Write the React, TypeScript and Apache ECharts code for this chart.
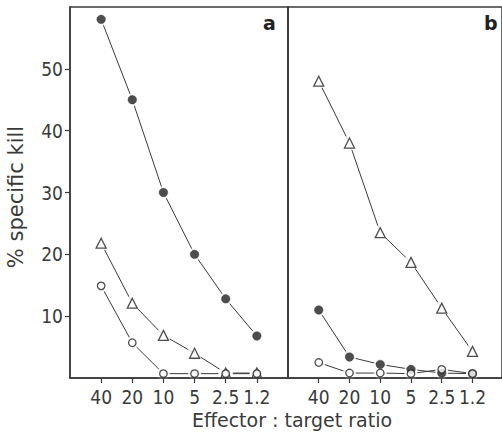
import React, { useEffect, useRef } from "react";
import * as echarts from "echarts";

const ratios = ["40", "20", "10", "5", "2.5", "1.2"];
const yTicks = [10, 20, 30, 40, 50];

// Panel a
const aFilled = [58, 45, 30, 20, 12.8, 6.8];
const aTriangle = [21.8, 12.1, 6.9, 4.0, 0.8, 0.8];
const aOpen = [14.9, 5.7, 0.7, 0.7, 0.7, 0.7];

// Panel b
const bTriangle = [48, 38, 23.5, 18.7, 11.3, 4.3];
const bFilled = [11.0, 3.4, 2.2, 1.4, 0.8, 0.7];
const bOpen = [2.5, 0.8, 0.8, 0.7, 1.4, 0.7];

const INK = "#3a3a3a";
const FONT = "'DejaVu Sans Condensed', 'DejaVu Sans', sans-serif";
const TITLE_FONT = "'DejaVu Sans', sans-serif";

const toPts = (arr: number[]) => arr.map((v, i) => [i, v]);

export default function App() {
  const ref = useRef<HTMLDivElement>(null);
  useEffect(() => {
    const chart = echarts.init(ref.current!, null, { renderer: "svg" });
    const mkX = (gi: number, max: number) => ({
      type: "value",
      gridIndex: gi,
      min: -1,
      max,
      interval: 1,
      z: 10,
      splitLine: { show: false },
      axisLine: { show: true, onZero: false, lineStyle: { color: INK, width: 1.5 } },
      axisTick: { show: true, customValues: [0, 1, 2, 3, 4, 5], length: 5, lineStyle: { color: INK, width: 1.2 } },
      axisLabel: {
        customValues: [0, 1, 2, 3, 4, 5],
        formatter: (v: number) => ratios[Math.round(v)] ?? "",
        color: INK,
        fontFamily: FONT,
        fontSize: 19,
        margin: 9,
      },
    });
    const mkY = (gi: number, showLabels: boolean) => ({
      type: "value",
      gridIndex: gi,
      min: 0,
      max: 60,
      interval: 10,
      z: 10,
      splitLine: { show: false },
      axisLine: { show: true, onZero: false, lineStyle: { color: INK, width: 1.5 } },
      axisTick: { show: showLabels, customValues: yTicks, length: 5, lineStyle: { color: INK, width: 1.2 } },
      axisLabel: {
        show: showLabels,
        customValues: yTicks,
        color: INK,
        fontFamily: FONT,
        fontSize: 19,
        margin: 7,
      },
    });

    const lineSeries = (gi: number, data: number[]) => ({
      type: "line",
      xAxisIndex: gi,
      yAxisIndex: gi,
      data: toPts(data),
      showSymbol: false,
      symbol: "none",
      lineStyle: { color: INK, width: 1 },
      z: 2,
      silent: true,
    });
    const haloSeries = (gi: number, data: number[], size: number) => ({
      type: "scatter",
      xAxisIndex: gi,
      yAxisIndex: gi,
      data: toPts(data),
      symbol: "circle",
      symbolSize: size,
      itemStyle: { color: "#ffffff" },
      z: 3,
      silent: true,
    });
    const markerSeries = (gi: number, data: number[], kind: "filled" | "open" | "triangle") => ({
      type: "scatter",
      xAxisIndex: gi,
      yAxisIndex: gi,
      data: toPts(data),
      symbol: kind === "triangle" ? "triangle" : "circle",
      symbolSize: kind === "filled" ? 8.5 : kind === "open" ? 7.5 : 10,
      itemStyle:
        kind === "filled"
          ? { color: "#222", borderColor: "#222", borderWidth: 0.5 }
          : { color: "#ffffff", borderColor: "#222", borderWidth: 1.3 },
      z: 4,
      silent: true,
    });

    const groups: [number, number[], "filled" | "open" | "triangle"][] = [
      [0, aFilled, "filled"],
      [0, aTriangle, "triangle"],
      [0, aOpen, "open"],
      [1, bTriangle, "triangle"],
      [1, bFilled, "filled"],
      [1, bOpen, "open"],
    ];

    const series: any[] = [];
    groups.forEach(([gi, d]) => series.push(lineSeries(gi, d)));
    groups.forEach(([gi, d, k]) => series.push(haloSeries(gi, d, k === "triangle" ? 15 : 13)));
    groups.forEach(([gi, d, k]) => series.push(markerSeries(gi, d, k)));

    chart.setOption({
      animation: false,
      backgroundColor: "#ffffff",
      textStyle: { fontFamily: FONT },
      grid: [
        { left: 70, top: 7, width: 218, height: 371, show: true, borderColor: INK, borderWidth: 1.5, backgroundColor: "transparent" },
        { left: 288, top: 7, width: 218, height: 371, show: true, borderColor: INK, borderWidth: 1.5, backgroundColor: "transparent" },
      ],
      xAxis: [mkX(0, 6), mkX(1, 5.96)],
      yAxis: [mkY(0, true), mkY(1, false)],
      series,
      graphic: [
        { type: "text", left: 263, top: 13, style: { text: "a", fill: "#222", font: "bold 19px 'DejaVu Sans', sans-serif" } },
        { type: "text", left: 484, top: 13, style: { text: "b", fill: "#222", font: "bold 19px 'DejaVu Sans', sans-serif" } },
        {
          type: "text",
          x: 16,
          y: 197,
          rotation: Math.PI / 2,
          style: {
            text: "% specific kill",
            fill: INK,
            font: "21px " + TITLE_FONT,
            textAlign: "center",
            textVerticalAlign: "middle",
          } as any,
        },
        {
          type: "text",
          x: 292,
          y: 420,
          style: {
            text: "Effector : target ratio",
            fill: INK,
            font: "19px " + TITLE_FONT,
            textAlign: "center",
            textVerticalAlign: "middle",
          } as any,
        },
      ],
    });
    return () => chart.dispose();
  }, []);
  return <div ref={ref} style={{ position: "fixed", left: 0, top: 0, width: 502, height: 434 }} />;
}
